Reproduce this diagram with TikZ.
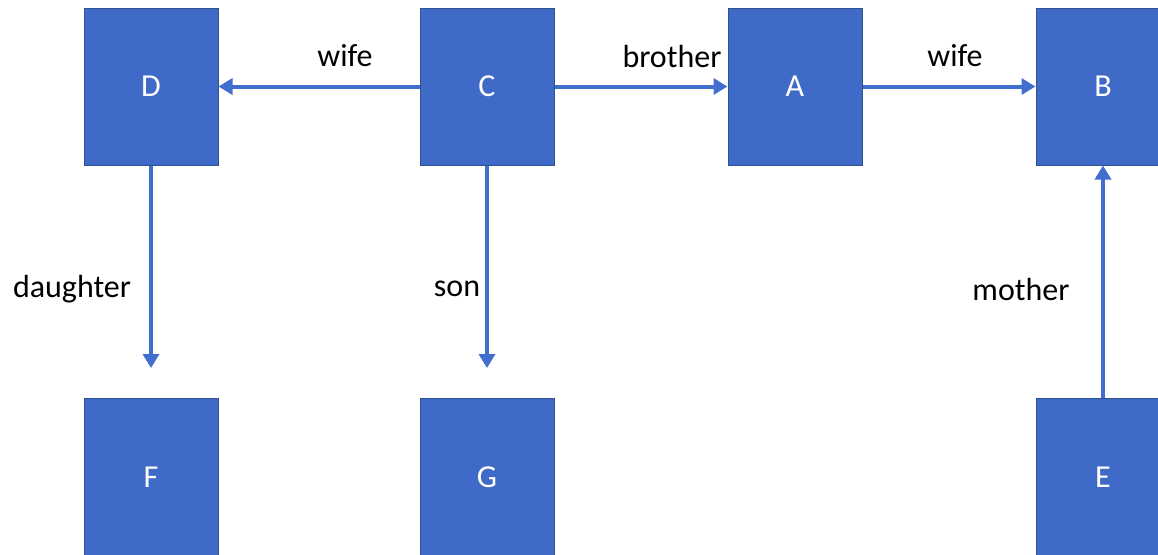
\documentclass[tikz,border=0pt]{standalone}
\usepackage{fontspec}
\setmainfont{Carlito}
\usetikzlibrary{arrows.meta}
\definecolor{boxblue}{RGB}{64,106,200}
\definecolor{boxedge}{RGB}{47,82,143}
\definecolor{linkblue}{RGB}{66,110,205}
\tikzset{
	person/.style={rectangle, fill=boxblue, draw=boxedge, line width=0.5pt,
		minimum width=67pt, minimum height=78.5pt, inner sep=0pt,
		text=white, font=\fontsize{16}{18}\selectfont},
	relation/.style={font=\fontsize{16}{18}\selectfont, text=black, inner sep=0pt},
	link/.style={draw=linkblue, line width=2pt, -{Triangle[length=7pt,width=8pt]}}
}
\begin{document}
\begin{tikzpicture}[x=0.5pt,y=-0.5pt]
			%%%%% START %%%%%
			
			\useasboundingbox (0, 0) rectangle (1158, 554);
			
			\node[person] (D) at (151, 86.5) {D};
			\node[person] (C) at (487, 86.5) {C};
			\node[person] (A) at (795, 86.5) {A};
			\node[person] (B) at (1103, 86.5) {B};
			
			\node[person] (F) at (151, 477) {F};
			\node[person] (G) at (487, 477) {G};
			\node[person] (E) at (1103, 477) {E};
			
			\draw[link] (C.west) -- (D.east);
			\draw[link] (C.east) -- (A.west);
			\draw[link] (A.east) -- (B.west);
			
			\draw[link, shorten >=15pt] (D.south) -- (F.north);
			\draw[link, shorten >=15pt] (C.south) -- (G.north);
			\draw[link] (E.north) -- (B.south);
			
			\node[relation] (wifeCD) at (345, 56) {wife};
			\node[relation] (brotherCA) at (672, 56) {brother};
			\node[relation] (wifeAB) at (955, 56) {wife};
			
			\node[relation] (daughterDF) at (72, 289) {daughter};
			\node[relation] (sonCG) at (457, 289) {son};
			\node[relation] (motherEB) at (1021, 289) {mother};
			
			%%%%% END %%%%%
\end{tikzpicture}
\end{document}
